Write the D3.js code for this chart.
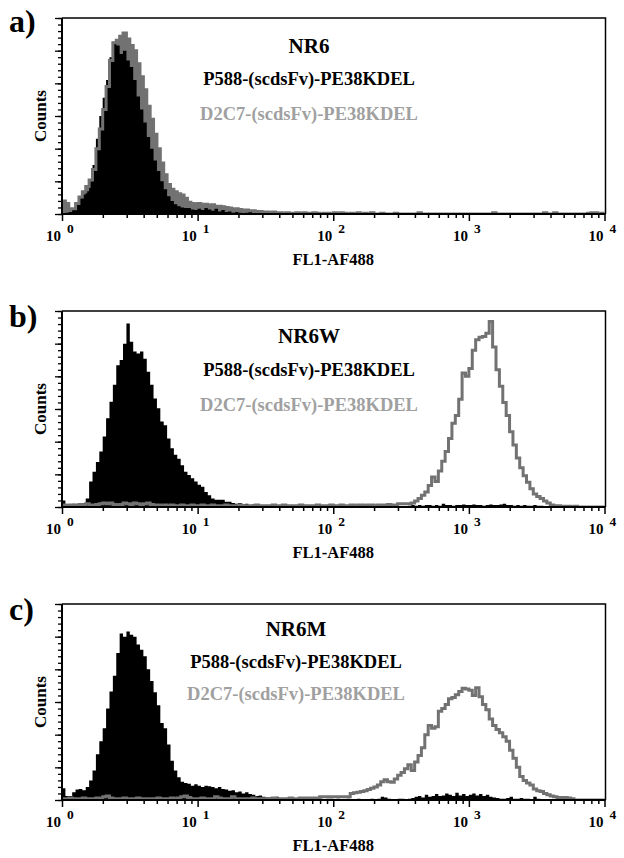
<!DOCTYPE html>
<html><head><meta charset="utf-8">
<script src="https://cdn.jsdelivr.net/npm/d3@7"></script>
<style>body{margin:0;background:#fff}svg text{font-family:"Liberation Serif","Times New Roman",serif;font-weight:bold}</style>
</head><body>
<svg id="chart" width="624" height="858"></svg>
<script>
// ---------- DATA ----------
const binsPerDecade = 40;           // histogram channels per decade (log FL1 axis)
const decades = [0, 1, 2, 3, 4];    // x tick exponents (10^n)
const panelLetters = ["a)", "b)", "c)"];
const cellLines = ["NR6", "NR6W", "NR6M"];
const seriesNames = ["P588-(scdsFv)-PE38KDEL", "D2C7-(scdsFv)-PE38KDEL"];
const xLabel = "FL1-AF488";
const yLabel = "Counts";
const yMax = 300;

const aP588 = [0,2,3,8,16,24,30,35,50,75, 115,150,178,205,240,262,258,245,250,235, 225,205,180,160,140,118,100,82,66,50, 38,27,20,15,12,10,9,9,7,6,
  8,6,9,7,5,8,4,6,3,4, 2,3,2,1,2,3,1,2,1,0, 2,1,0,1,2,0,1,0,0,1, 0,1,0,0,1,0,0,2,0,0,
  1,0,0,0,1,0,0,0,0,1, 0,0,0,0,0,0,0,0,0,0, 0,0,0,0,0,0,0,0,0,0, 0,0,0,0,0,0,0,0,0,0,
  0,0,0,0,0,0,0,0,0,0, 0,0,0,0,0,0,0,0,0,0, 0,0,0,0,0,0,0,0,0,0, 0,0,0,0,0,0,0,0,0,0];
const aD2C7 = [20,16,8,8,16,26,34,42,52,68, 100,130,160,195,235,262,266,272,277,268, 258,250,230,210,190,165,145,122,100,78, 60,45,38,34,31,29,24,18,16,15,
  16,14,15,13,14,12,12,11,10,9, 8,8,7,6,6,5,5,4,4,3, 3,2,3,2,2,1,2,1,1,2, 1,2,1,1,2,1,0,1,1,0,
  2,1,2,1,0,1,0,2,0,1, 0,2,0,0,1,0,0,0,1,0, 0,0,0,0,0,2,0,0,0,0, 0,0,0,0,0,0,0,0,0,0,
  0,0,0,0,0,0,0,2,0,0, 0,0,0,0,0,0,0,0,0,0, 0,0,2,0,0,2,0,0,0,0, 0,0,0,0,0,1,2,2,0,1];
const bP588 = [10,4,3,5,4,5,6,13,39,54, 69,85,108,136,161,187,217,225,250,281, 253,238,235,238,227,207,187,166,151,131, 125,105,90,80,74,64,54,49,44,39,
  34,31,23,18,13,11,11,11,8,8, 6,5,6,4,5,3,4,3,2,3, 2,3,2,1,2,2,1,2,1,1, 2,1,1,0,1,1,0,1,0,0,
  1,0,0,0,0,0,0,0,0,0, 0,0,0,0,0,0,0,0,0,0, 0,0,2,3,2,3,2,3,3,2, 3,2,5,3,3,2,3,3,4,3,
  3,4,3,3,2,3,4,3,3,4, 5,3,3,2,3,2,3,2,2,3, 2,2,1,0,0,0,0,0,0,0, 0,0,0,0,0,0,0,0,0,0];
const bD2C7 = [3,2,3,2,3,4,3,5,3,3, 4,5,6,5,6,4,3,4,6,5, 4,6,5,4,5,6,4,3,3,2, 3,2,3,2,2,3,2,2,3,2,
  2,3,2,2,3,2,2,2,3,2, 2,2,3,2,2,2,2,3,2,2, 2,2,3,2,2,3,2,2,2,2, 3,2,2,2,2,3,2,2,2,3,
  2,2,3,2,2,3,2,3,3,2, 3,3,2,3,3,3,4,3,3,5, 5,5,5,6,9,13,18,23,33,46, 39,55,70,85,105,128,140,165,205,200,
  212,240,256,260,261,266,284,245,210,185, 160,140,115,95,75,60,48,38,28,20, 16,13,9,6,3,2,2,1,1,1, 0,1,0,0,0,0,0,0,0,0];
const cP588 = [18,6,6,12,16,17,15,20,30,45, 70,90,110,140,166,190,225,255,250,258, 253,250,238,230,220,200,182,165,145,118, 110,85,60,45,35,28,26,25,22,24,
  22,20,22,21,20,18,20,17,16,14, 15,12,13,10,12,9,8,6,7,5, 4,4,3,5,3,2,3,4,2,3, 2,3,2,2,3,2,2,1,2,2,
  1,2,1,1,2,1,1,2,1,1, 1,2,1,2,5,4,2,1,1,2, 2,1,2,3,5,6,4,8,5,6, 9,6,7,10,8,6,11,7,9,6,
  8,10,7,9,6,8,5,4,3,2, 2,3,5,2,2,3,2,2,1,5, 2,1,1,0,0,0,0,0,0,0, 0,0,0,0,0,0,0,0,0,0];
const cD2C7 = [2,2,3,2,2,2,3,2,2,2, 3,2,5,6,3,2,2,2,3,2, 2,2,3,2,2,2,2,2,3,2, 2,2,3,2,3,5,6,4,2,2,
  2,3,2,2,2,5,3,2,2,2, 5,2,2,2,2,2,3,2,2,2, 2,2,3,2,2,2,2,3,2,2, 3,3,3,3,3,3,5,5,5,5,
  5,5,5,5,5,10,11,12,13,14, 16,18,20,23,28,31,28,27,32,38, 42,48,54,45,58,68,80,100,114,110, 112,136,140,146,155,157,161,166,171,170,
  168,160,172,158,146,138,124,114,108,103, 97,90,76,64,50,36,30,26,23,17, 14,13,10,8,6,5,4,4,4,3, 2,0,0,0,0,0,0,0,0,0];

const p588Series = [aP588, bP588, cP588];
const d2c7Series = [aD2C7, bD2C7, cD2C7];

// ---------- LAYOUT ----------
const L = 62, R = 604.5, H = 196;
const tops = [18, 311, 604];
const textPos = [
  {letter: 32, title: 53, s1: 85, s2: 120, cx: 309},
  {letter: 327, title: 343, s1: 376, s2: 411, cx: 309},
  {letter: 620, title: 636, s1: 668, s2: 700, cx: 296}
];
const grayFillPanel = [true, false, false];
const grayCol = "#727272", grayText = "#a0a0a0";

const svg = d3.select("#chart");
const x = d3.scaleLog().domain([1, 1e4]).range([L, R]);

function toPoints(arr) {
  const pts = arr.map((v, i) => ({e: Math.pow(10, i / binsPerDecade), v}));
  pts.push({e: Math.pow(10, arr.length / binsPerDecade), v: arr[arr.length - 1]});
  return pts;
}

tops.forEach((top, p) => {
  const bottom = top + H;
  const y = d3.scaleLinear().domain([0, yMax]).range([bottom, top]);
  const g = svg.append("g");
  const clipId = "clip" + p;
  svg.append("clipPath").attr("id", clipId).append("rect")
    .attr("x", L).attr("y", top).attr("width", R - L + 1).attr("height", H);

  const area = d3.area().x(d => x(d.e)).y0(bottom).y1(d => y(d.v)).curve(d3.curveStepAfter);
  const line = d3.line().x(d => x(d.e)).y(d => y(d.v)).curve(d3.curveStepAfter);
  const gp = toPoints(d2c7Series[p]);
  const bp = toPoints(p588Series[p]);
  const hg = g.append("g").attr("clip-path", `url(#${clipId})`);
  if (grayFillPanel[p]) hg.append("path").attr("d", area(gp)).attr("fill", grayCol);
  hg.append("path").attr("d", area(bp)).attr("fill", "#000");
  hg.append("path").attr("d", line(gp)).attr("fill", "none").attr("stroke", grayCol).attr("stroke-width", 3);

  // frame
  g.append("path").attr("d", `M${L},${top}H${R + 1}V${bottom}`).attr("fill", "none").attr("stroke", "#000").attr("stroke-width", 1.5);

  // x axis ticks
  const minor = [];
  for (let d = 0; d < 4; d++) for (let k = 2; k <= 9; k++) minor.push(k * Math.pow(10, d));
  const majors = decades.map(n => Math.pow(10, n));
  const xa1 = g.append("g").attr("transform", `translate(0,${bottom})`)
    .call(d3.axisBottom(x).tickValues(minor).tickSize(4).tickFormat(""));
  const xa2 = g.append("g").attr("transform", `translate(0,${bottom})`)
    .call(d3.axisBottom(x).tickValues(majors).tickSize(7).tickFormat(""));
  [xa1, xa2].forEach(a => { a.select(".domain").remove(); a.selectAll("line").attr("stroke-width", 1.5); });

  // y axis ticks
  const ya1 = g.append("g").attr("transform", `translate(${L},0)`)
    .call(d3.axisLeft(y).tickValues(d3.range(0, yMax + 1, 10)).tickSize(4).tickFormat(""));
  const ya2 = g.append("g").attr("transform", `translate(${L},0)`)
    .call(d3.axisLeft(y).tickValues(d3.range(0, yMax + 1, 50)).tickSize(7).tickFormat(""));
  [ya1, ya2].forEach(a => { a.select(".domain").remove(); a.selectAll("line").attr("stroke-width", 1.3); });

  // axis lines
  g.append("line").attr("x1", L).attr("x2", R + 1).attr("y1", bottom).attr("y2", bottom).attr("stroke", "#000").attr("stroke-width", 2);
  g.append("line").attr("x1", L).attr("x2", L).attr("y1", top).attr("y2", bottom + 1).attr("stroke", "#000").attr("stroke-width", 2);

  // x tick labels 10^n
  decades.forEach(n => {
    const tx = x(Math.pow(10, n));
    g.append("text").attr("x", tx - 1).attr("y", bottom + 27).attr("text-anchor", "end")
      .attr("font-size", 15).text("10");
    g.append("text").attr("x", tx + 5).attr("y", bottom + 19).attr("font-size", 13.5).text(String(n));
  });
  g.append("text").attr("x", (L + R) / 2).attr("y", bottom + 51).attr("text-anchor", "middle")
    .attr("font-size", 16.5).text(xLabel);
  g.append("text").attr("transform", `translate(46,${top + H / 2}) rotate(-90)`).attr("text-anchor", "middle")
    .attr("font-size", 17).text(yLabel);

  const tp = textPos[p];
  g.append("text").attr("x", 9).attr("y", tp.letter).attr("font-size", 32).text(panelLetters[p]);
  g.append("text").attr("x", tp.cx).attr("y", tp.title).attr("text-anchor", "middle").attr("font-size", 21).text(cellLines[p]);
  g.append("text").attr("x", tp.cx).attr("y", tp.s1).attr("text-anchor", "middle").attr("font-size", 18.5).text(seriesNames[0]);
  g.append("text").attr("x", tp.cx).attr("y", tp.s2).attr("text-anchor", "middle").attr("font-size", 18.5)
    .attr("fill", grayText).text(seriesNames[1]);
});
</script>
</body></html>
